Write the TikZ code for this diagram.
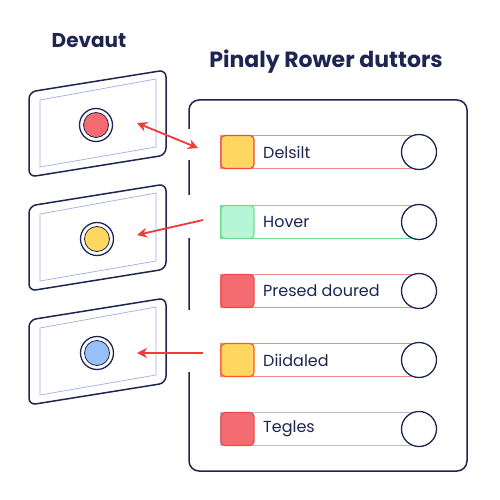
\documentclass[tikz,border=0pt]{standalone}
\usepackage{fontspec}
\setmainfont{Poppins}
\usetikzlibrary{arrows.meta}
\definecolor{navy}{HTML}{1D2550}
\definecolor{lav}{HTML}{A8A8E8}
\definecolor{arrred}{HTML}{EE3B3B}
\definecolor{yel}{HTML}{FDD760}
\definecolor{mint}{HTML}{B6F5D6}
\definecolor{mintb}{HTML}{6EE08F}
\definecolor{redf}{HTML}{F56B72}
\definecolor{redb}{HTML}{F04848}
\definecolor{barred}{HTML}{F58888}
\definecolor{bargray}{HTML}{B9BDD4}
\definecolor{orb}{HTML}{FF5A1F}
\definecolor{bluef}{HTML}{98C0F8}
\tikzset{
  panelout/.style={draw=navy,line width=1.5pt,rounded corners=7pt},
  panelin/.style={draw=lav,line width=0.7pt},
  ring/.style={circle,draw=navy,line width=1.3pt,minimum size=33pt,inner sep=0pt},
  dot/.style={circle,draw=navy,line width=0.8pt,minimum size=25pt,inner sep=0pt},
  bar/.style={rectangle,line width=1.4pt,minimum width=198pt,minimum height=33pt,inner sep=0pt},
  sq/.style={rectangle,rounded corners=4pt,line width=1.2pt,minimum size=33pt,inner sep=0pt},
  knob/.style={circle,draw=navy,fill=white,line width=1.3pt,minimum size=35pt,inner sep=0pt},
  lbl/.style={anchor=west,inner sep=0pt,text=navy,font=\fontsize{16}{18}\selectfont},
  ttl/.style={inner sep=0pt,text=navy,font=\fontsize{20}{24}\selectfont\bfseries},
  arr/.style={draw=arrred,line width=1.8pt,-{Stealth[length=10pt,width=10pt]}},
  arr2/.style={draw=arrred,line width=1.8pt,{Stealth[length=10pt,width=10pt]}-{Stealth[length=10pt,width=10pt]}}
}
\begin{document}
\begin{tikzpicture}[x=1pt,y=-1pt]
\useasboundingbox (0,0) rectangle (500,500);
\fill[white] (0,0) rectangle (500,500);
% titles
\node[ttl] (t1) at (89,41) {Devaut};
\node[ttl,font=\fontsize{22}{26}\selectfont\bfseries] (t2) at (326,62) {Pinaly Rower duttors};
% left panels
\foreach \k in {0,1,2}{
  \begin{scope}[yshift=-114*\k pt]
    \draw[panelout] (29,92) -- (166,70) -- (166,155) -- (29,177) -- cycle;
    \draw[panelin] (40,100) -- (156,79) -- (156,147) -- (40,167) -- cycle;
  \end{scope}
}
\node[ring] (r1) at (96,125) {};
\node[dot,fill=redf] (d1) at (96,125) {};
\node[ring] (r2) at (97,239) {};
\node[dot,fill=yel] (d2) at (97,239) {};
\node[ring] (r3) at (97,353) {};
\node[dot,fill=bluef] (d3) at (97,353) {};
% right panel
\draw[navy,line width=1.5pt,rounded corners=10pt] (189,100) rectangle (467,471);
\fill[white] (185,129) rectangle (193,160);
\fill[white] (185,195) rectangle (193,238);
\fill[white] (185,310) rectangle (193,372);
% rows
\node[bar,draw=barred] (b1) at (320,152) {};
\node[sq,draw=redb,fill=yel] (s1) at (237.5,152) {};
\node[knob] (k1) at (419,152) {};
\node[lbl] (l1) at (263,152) {Delsilt};

\node[bar,draw=mintb] (b2) at (320,222) {};
\node[sq,draw=mintb,fill=mint] (s2) at (237.5,222) {};
\node[knob] (k2) at (419,222) {};
\node[lbl] (l2) at (263,222) {Hover};

\node[bar,draw=barred] (b3) at (320,291) {};
\node[sq,draw=redb,fill=redf] (s3) at (237.5,291) {};
\node[knob] (k3) at (419,291) {};
\node[lbl] (l3) at (263,291) {Presed doured};

\node[bar,draw=barred] (b4) at (320,360) {};
\node[sq,draw=orb,fill=yel] (s4) at (237.5,360) {};
\node[knob] (k4) at (419,360) {};
\node[lbl] (l4) at (263,360) {Diidaled};

\node[bar,draw=bargray] (b5) at (320,429) {};
\node[sq,draw=redb,fill=redf] (s5) at (237.5,429) {};
\node[knob] (k5) at (419,429) {};
\node[lbl] (l5) at (263,429) {Tegles};
% arrows
\coordinate (a1s) at (137,123);
\coordinate (a1e) at (198,148);
\coordinate (a2s) at (203,220);
\coordinate (a2e) at (137,235);
\coordinate (a3s) at (203,353);
\coordinate (a3e) at (137,353);
\draw[arr2] (a1s) -- (a1e);
\draw[arr] (a2s) -- (a2e);
\draw[arr] (a3s) -- (a3e);
\end{tikzpicture}
\end{document}
